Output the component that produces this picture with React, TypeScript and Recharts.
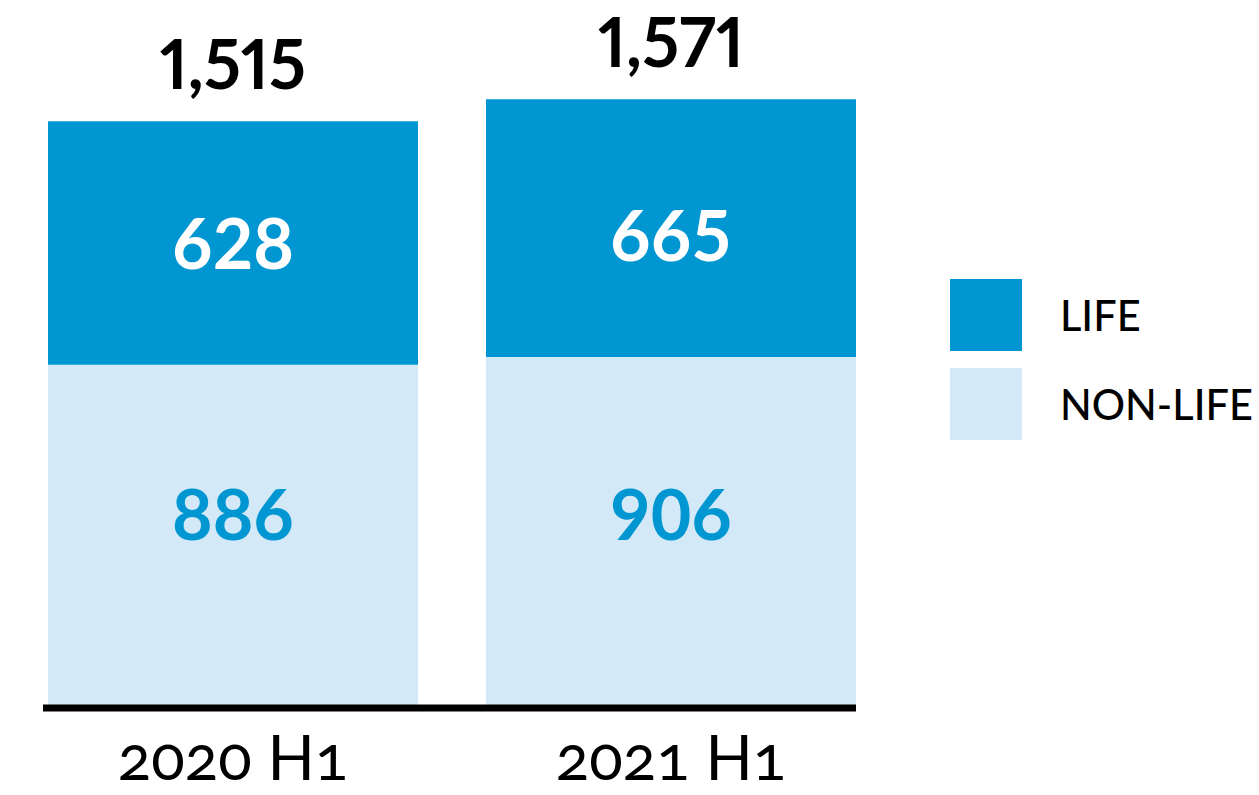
import { BarChart, Bar, XAxis, YAxis, LabelList, Legend } from "recharts";

const periods = ["2020 H1", "2021 H1"];
const nonLife = [886, 906];
const life = [628, 665];
const totals = [1515, 1571];

const LIFE_COLOR = "#0096D1";
const NONLIFE_COLOR = "#D4E9F7";
const FONT = "Lato, 'Open Sans', sans-serif";

const data = periods.map((period, i) => ({
  period,
  nonLife: nonLife[i],
  life: life[i],
  total: totals[i],
}));

const fmt = (v: any) => Number(v).toLocaleString("en-US");

const PeriodTick = (props: any) => {
  const { x, y, payload } = props;
  return (
    <text
      x={x}
      y={y + 72}
      textAnchor="middle"
      fill="#000"
      fontSize={62}
      fontFamily={FONT}
      style={{ fontVariantNumeric: "oldstyle-nums" }}
    >
      {payload.value}
    </text>
  );
};

const LegendBox = () => {
  const items = [
    { label: "LIFE", color: LIFE_COLOR },
    { label: "NON-LIFE", color: NONLIFE_COLOR },
  ];
  return (
    <div>
      {items.map((it, i) => (
        <div
          key={it.label}
          style={{
            display: "flex",
            alignItems: "center",
            marginBottom: i === 0 ? 17 : 0,
            whiteSpace: "nowrap",
          }}
        >
          <div style={{ width: 72, height: 72, flexShrink: 0, background: it.color }} />
          <span
            style={{
              marginLeft: 38,
              fontFamily: FONT,
              fontWeight: 500,
              fontSize: 41.5,
              color: "#000",
              lineHeight: "44px",
              whiteSpace: "nowrap",
            }}
          >
            {it.label}
          </span>
        </div>
      ))}
    </div>
  );
};

export default function App() {
  return (
    <div style={{ position: "absolute", left: 0, top: 0, width: 1259, height: 795, background: "#fff" }}>
      <BarChart
        width={1259}
        height={795}
        data={data}
        margin={{ top: 86, right: 403, left: 43, bottom: 0 }}
        barSize={370}
      >
        <XAxis
          dataKey="period"
          height={87}
          padding={{ left: -29, right: -34 }}
          axisLine={{ stroke: "#000", strokeWidth: 7 }}
          tickLine={false}
          tickSize={0}
          tickMargin={0}
          tick={<PeriodTick />}
          interval={0}
        />
        <YAxis hide domain={[0, 1605]} />
        <Legend
          layout="vertical"
          align="center"
          verticalAlign="middle"
          content={<LegendBox />}
          wrapperStyle={{ left: 950, top: 279, width: 309 }}
        />
        <Bar dataKey="nonLife" stackId="a" fill={NONLIFE_COLOR} isAnimationActive={false}>
          <LabelList
            dataKey="nonLife"
            position="insideBottom"
            offset={168}
            fill={LIFE_COLOR}
            fontSize={70}
            fontWeight={700}
            fontFamily={FONT}
          />
        </Bar>
        <Bar dataKey="life" stackId="a" fill={LIFE_COLOR} isAnimationActive={false}>
          <LabelList
            dataKey="life"
            position="insideBottom"
            offset={96}
            fill="#fff"
            fontSize={70}
            fontWeight={700}
            fontFamily={FONT}
          />
          <LabelList
            dataKey="total"
            position="top"
            offset={32}
            formatter={fmt}
            fill="#000"
            fontSize={68}
            fontWeight={700}
            fontFamily={FONT}
            style={{ fontVariantNumeric: "proportional-nums" }}
          />
        </Bar>
      </BarChart>
    </div>
  );
}
